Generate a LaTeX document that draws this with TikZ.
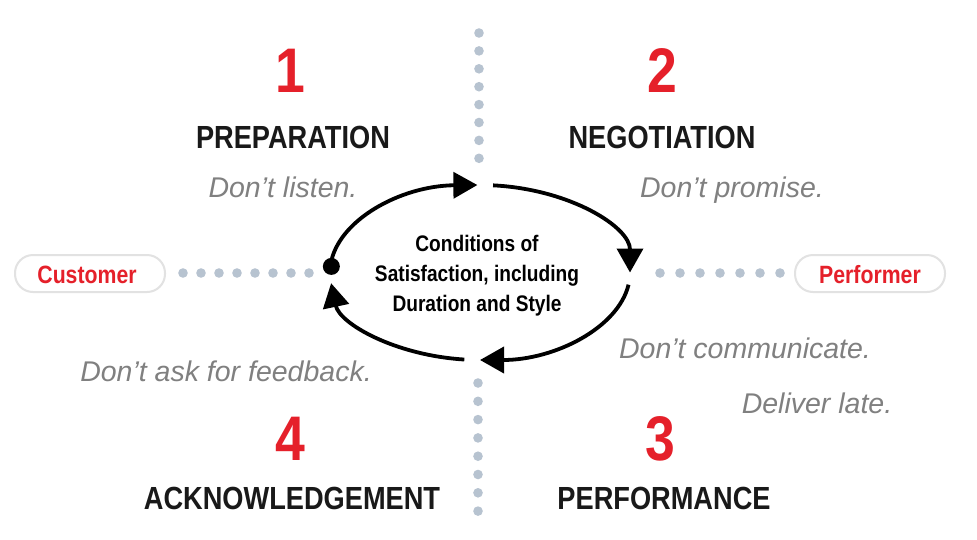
\documentclass[tikz,border=0pt]{standalone}
\usepackage{fontspec}
\usetikzlibrary{arrows.meta}
\setmainfont{Liberation Sans}
\newfontfamily\condfont{Liberation Sans}[FakeStretch=0.85]
\definecolor{numred}{HTML}{E5202A}
\definecolor{txtgray}{HTML}{808080}
\definecolor{dotblue}{HTML}{B7C3D0}
\definecolor{pillline}{HTML}{E2E2E2}
\tikzset{
  num/.style={anchor=base, inner sep=0pt, text=numred, font=\condfont\bfseries\fontsize{63}{63}\selectfont},
  head/.style={anchor=base, inner sep=0pt, text=black!90, font=\condfont\bfseries\fontsize{32}{32}\selectfont},
  note/.style={anchor=base, inner sep=0pt, text=txtgray, font=\itshape\fontsize{28.5}{28.5}\selectfont},
  pill/.style={draw=pillline, line width=2pt, fill=white, rounded corners=18pt, minimum width=150pt, minimum height=37pt, inner sep=0pt},
  role/.style={anchor=base, inner sep=0pt, text=numred, font=\condfont\bfseries\fontsize{25}{25}\selectfont},
  dotc/.style={fill=dotblue, draw=none},
  cyc/.style={line width=3.8pt, -{Triangle[length=24pt,width=26pt]}},
}
\begin{document}
\begin{tikzpicture}[x=1pt,y=-1pt]
\fill[white] (0,0) rectangle (977,539);
\useasboundingbox (0,0) rectangle (977,539);

% dotted dividers
\foreach \i in {0,...,7} \fill[dotc] (479,33+\i*17.9) circle (4.8pt);
\foreach \i in {0,...,7} \fill[dotc] (478,383+\i*18.3) circle (4.8pt);
\foreach \i in {0,...,7} \fill[dotc] (183+\i*18,273) circle (4.8pt);
\foreach \i in {0,...,6} \fill[dotc] (660+\i*20,273) circle (4.8pt);

% pills
\node[pill] (custpill) at (90,273.5) {};
\node[pill] (perfpill) at (870,273.5) {};
\node[role] (cust) at (87,283) {Customer};
\node[role] (perf) at (870,283) {Performer};

% cycle
\coordinate (c) at (480,272.5);
\draw[cyc] (c) ++(185:150 and 87.5) arc[start angle=185, end angle=269, x radius=150, y radius=87.5];
\draw[cyc] (c) ++(275:150 and 87.5) arc[start angle=275, end angle=360, x radius=150, y radius=87.5];
\draw[cyc] (c) ++(8:150 and 87.5) arc[start angle=8, end angle=90, x radius=150, y radius=87.5];
\draw[cyc] (c) ++(96:150 and 87.5) arc[start angle=96, end angle=173, x radius=150, y radius=87.5];
\fill (c) ++(184:149 and 87.5) circle (8.5pt);

\node[anchor=north, inner sep=0pt, align=center, font=\condfont\bfseries\fontsize{22.5}{30}\selectfont] (cos) at (477,235)
  {Conditions of\\Satisfaction, including\\Duration and Style};

% numbers
\node[num] (n1) at (290,92) {1};
\node[num] (n2) at (662,92) {2};
\node[num] (n3) at (660,460) {3};
\node[num] (n4) at (290,460) {4};

% headings
\node[head] (h1) at (293,148) {PREPARATION};
\node[head] (h2) at (662,148) {NEGOTIATION};
\node[head] (h3) at (664,509) {PERFORMANCE};
\node[head] (h4) at (292,509) {ACKNOWLEDGEMENT};

% notes
\node[note] (t1) at (283,197) {Don’t listen.};
\node[note] (t2) at (732,197) {Don’t promise.};
\node[note] (t3) at (745,358) {Don’t communicate.};
\node[note] (t4) at (817,413) {Deliver late.};
\node[note] (t5) at (226,381) {Don’t ask for feedback.};
\end{tikzpicture}
\end{document}
